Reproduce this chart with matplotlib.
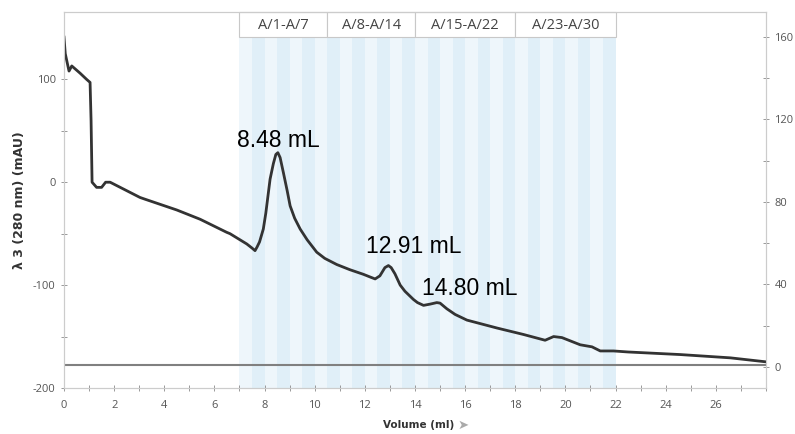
import numpy as np
import matplotlib
matplotlib.use("Agg")
import matplotlib.pyplot as plt
from matplotlib.patches import Rectangle

plt.rcParams['axes.unicode_minus'] = False

# chromatogram trace (volume in mL, UV in mAU)
volume = [0.0, 0.05, 0.2, 0.31, 0.64, 0.9, 1.04, 1.08, 1.12, 1.3, 1.5, 1.66, 1.84,
          3.03, 3.23, 4.5, 5.43, 6.49, 6.62, 7.29, 7.5, 7.62, 7.7, 7.8, 7.95,
          8.05, 8.22, 8.35, 8.45, 8.53, 8.62, 8.75, 8.9, 9.02, 9.2, 9.42, 9.7,
          10.08, 10.4, 10.88, 11.4, 11.94, 12.25, 12.41, 12.6, 12.8, 12.94,
          13.05, 13.2, 13.41, 13.6, 13.94, 14.1, 14.34, 14.6, 14.87, 15.0,
          15.27, 15.6, 16.07, 17.27, 18.33, 19.19, 19.53, 19.86, 20.59, 21.06,
          21.39, 21.92, 22.5, 24.58, 26.58, 27.97]
uv = [141, 125, 108, 113, 106, 100, 97, 60, 0, -5, -5, 0, 0,
      -14.8, -16.5, -27, -36, -48.7, -50, -60, -64, -66.5, -63, -58, -45.5,
      -30, 3, 18, 27, 28.7, 24, 9.4, -8, -23, -35, -45.5, -56,
      -68, -74, -80, -85, -89.5, -92.5, -94, -91, -83, -81,
      -83, -89, -100, -106, -114, -117, -119.7, -118.5, -117, -117.5,
      -123, -128.5, -134, -141.7, -148, -153.6, -150, -151, -158, -160,
      -164, -164, -165, -167.5, -170.7, -174.5]

peaks = [8.48, 12.91, 14.80]

fraction_start = 7.0
fraction_width = 0.5
n_fractions = 30
groups = ["A/1-A/7", "A/8-A/14", "A/15-A/22", "A/23-A/30"]
group_edges = [7.0, 10.5, 14.0, 18.0, 22.0]

fig = plt.figure(figsize=(7.95, 4.34), dpi=100)
ax = fig.add_axes([0.0805, 0.106, 0.883, 0.8665])

ylo, yhi = -200, 165.5
tick_col = "#555555"
spine_col = "#cccccc"

# fraction stripes
box_bottom = 141.3
for i in range(n_fractions):
    x0 = fraction_start + i * fraction_width
    col = "#eef6fb" if i % 2 == 0 else "#e0eff8"
    ax.add_patch(Rectangle((x0, ylo), fraction_width, box_bottom - ylo,
                           facecolor=col, edgecolor="none", zorder=0))

# fraction group boxes
for name, a, b in zip(groups, group_edges[:-1], group_edges[1:]):
    ax.add_patch(Rectangle((a, box_bottom), b - a, yhi - box_bottom,
                           facecolor="white", edgecolor="#c8c8c8", lw=0.8,
                           zorder=1, clip_on=False))
    ax.text((a + b) / 2, (box_bottom + yhi) / 2 - 1, name, ha="center", va="center",
            fontsize=10.5, color="#444444", family="Open Sans", zorder=2)

# baseline
ax.axhline(-178, color="#808080", lw=1.5, zorder=2)

ax.plot(volume, uv, color="#333333", lw=2, zorder=3)

# peak labels, placed relative to each peak
label_dx = [0.06, 1.04, 1.4]
label_y = [40.7, -62, -103.6]
for p, dx, ty in zip(peaks, label_dx, label_y):
    ax.text(p + dx, ty, f"{p:.2f} mL", ha="center", va="center", fontsize=16.5,
            family="Liberation Sans", color="black", zorder=4)

ax.set_xlim(0, 28)
ax.set_ylim(ylo, yhi)
ax.set_xticks(np.arange(0, 27, 2))
ax.set_xticks(np.arange(0, 28.1, 1), minor=True)
ax.set_yticks([-200, -100, 0, 100])
ax.set_yticks([-150, -50, 50], minor=True)

ax2 = ax.twinx()
ax2.set_ylim(-10.2, 172.1)
ax2.set_yticks([0, 40, 80, 120, 160])
ax2.set_yticks([20, 60, 100, 140], minor=True)

for a in (ax, ax2):
    for s in a.spines.values():
        s.set_color(spine_col)
        s.set_linewidth(0.8)
    a.tick_params(which="both", direction="inout", color="#999999",
                  labelcolor=tick_col, labelsize=8, width=0.7)
    a.tick_params(which="major", length=5)
    a.tick_params(which="minor", length=4)
    for lab in a.get_xticklabels() + a.get_yticklabels():
        lab.set_family("Open Sans")
ax.tick_params(axis="x", pad=6)

ax.set_ylabel("λ 3 (280 nm) (mAU)", fontsize=9, fontweight="bold",
              color="#333333", labelpad=5)
fig.text(0.527, 0.02, "Volume (ml)", ha="center", va="center", fontsize=7.5,
         fontweight="bold", color="#333333")
fig.text(0.582, 0.02, "➤", ha="center", va="center", fontsize=9.5,
         color="#aaaaaa")

fig.savefig("out.png", dpi=100)
